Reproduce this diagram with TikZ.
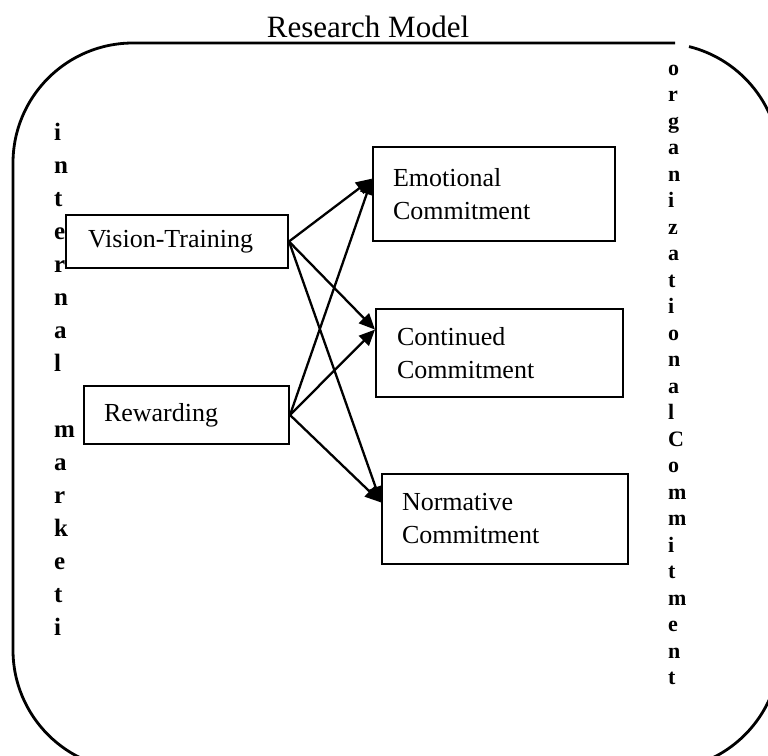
\documentclass[tikz,border=0pt]{standalone}
\usepackage{fontspec}
\setmainfont{Liberation Serif}
\usetikzlibrary{arrows.meta, calc}

\tikzset{
    cbox/.style={draw, line width=2pt, anchor=north west, inner xsep=20pt, inner ysep=0pt,
        align=left, font=\fontsize{26}{33}\selectfont},
    vleft/.style={font=\fontsize{25}{30}\selectfont\bfseries, inner sep=0pt, anchor=base west},
    vright/.style={font=\fontsize{22}{26}\selectfont\bfseries, inner sep=0pt, anchor=base west},
    link/.style={line width=2.3pt, -{Triangle[length=16pt, width=14pt]}}
}

\begin{document}
\begin{tikzpicture}[x=1pt, y=1pt]
    \useasboundingbox (0,0) rectangle (768,-755);
    \clip (0,0) rectangle (768,-755);

    % ramecek
    \draw[line width=2.8pt] (675,-43) -- (133,-43) arc[start angle=90, end angle=180, radius=120pt]
        -- (13,-650) arc[start angle=180, end angle=270, radius=120pt]
        -- (660,-770) arc[start angle=270, end angle=360, radius=120pt]
        -- (780,-163) arc[start angle=0, end angle=76, radius=120pt];

    \node[font=\fontsize{31}{37}\selectfont, anchor=base, inner sep=0pt] (title) at (368,-37) {Research Model};

    % nezavisle promenne
    \node[cbox, inner xsep=22pt, text width=178pt, minimum height=53pt] (vt) at (65,-214) {Vision-Training};
    \node[cbox, text width=165pt, minimum height=58pt] (rew) at (83,-385) {Rewarding};

    % zavisle promenne
    \node[cbox, text width=202pt, minimum height=94pt] (emo) at (372,-146) {Emotional\\Commitment};
    \node[cbox, inner xsep=21pt, text width=205pt, minimum height=88pt] (con) at (375,-308) {Continued\\Commitment};
    \node[cbox, text width=206pt, minimum height=90pt] (nor) at (381,-473) {Normative\\Commitment};

    % svisle popisky
    \foreach \ch [count=\k from 0] in {i,n,t,e,r,n,a,l}
        \node[vleft] (im\k) at (54,-140-33*\k) {\ch};
    \foreach \ch [count=\k from 9] in {m,a,r,k,e,t,i}
        \node[vleft] (im\k) at (54,-140-33*\k) {\ch};
    \foreach \ch [count=\k from 0] in {o,r,g,a,n,i,z,a,t,i,o,n,a,l,C,o,m,m,i,t,m,e,n,t}
        \node[vright] (oc\k) at (668,-75-26.5*\k) {\ch};

    % vazby
    \coordinate (emoin) at ($(emo.north west)!0.34!(emo.south west)$);
    \coordinate (conin) at ($(con.north west)!0.24!(con.south west)$);
    \coordinate (norin) at ($(nor.north west)!0.32!(nor.south west)$);
    \foreach \src in {vt, rew}
        \foreach \dst in {emoin, conin, norin}
            \draw[link] (\src.east) -- (\dst);
\end{tikzpicture}
\end{document}
